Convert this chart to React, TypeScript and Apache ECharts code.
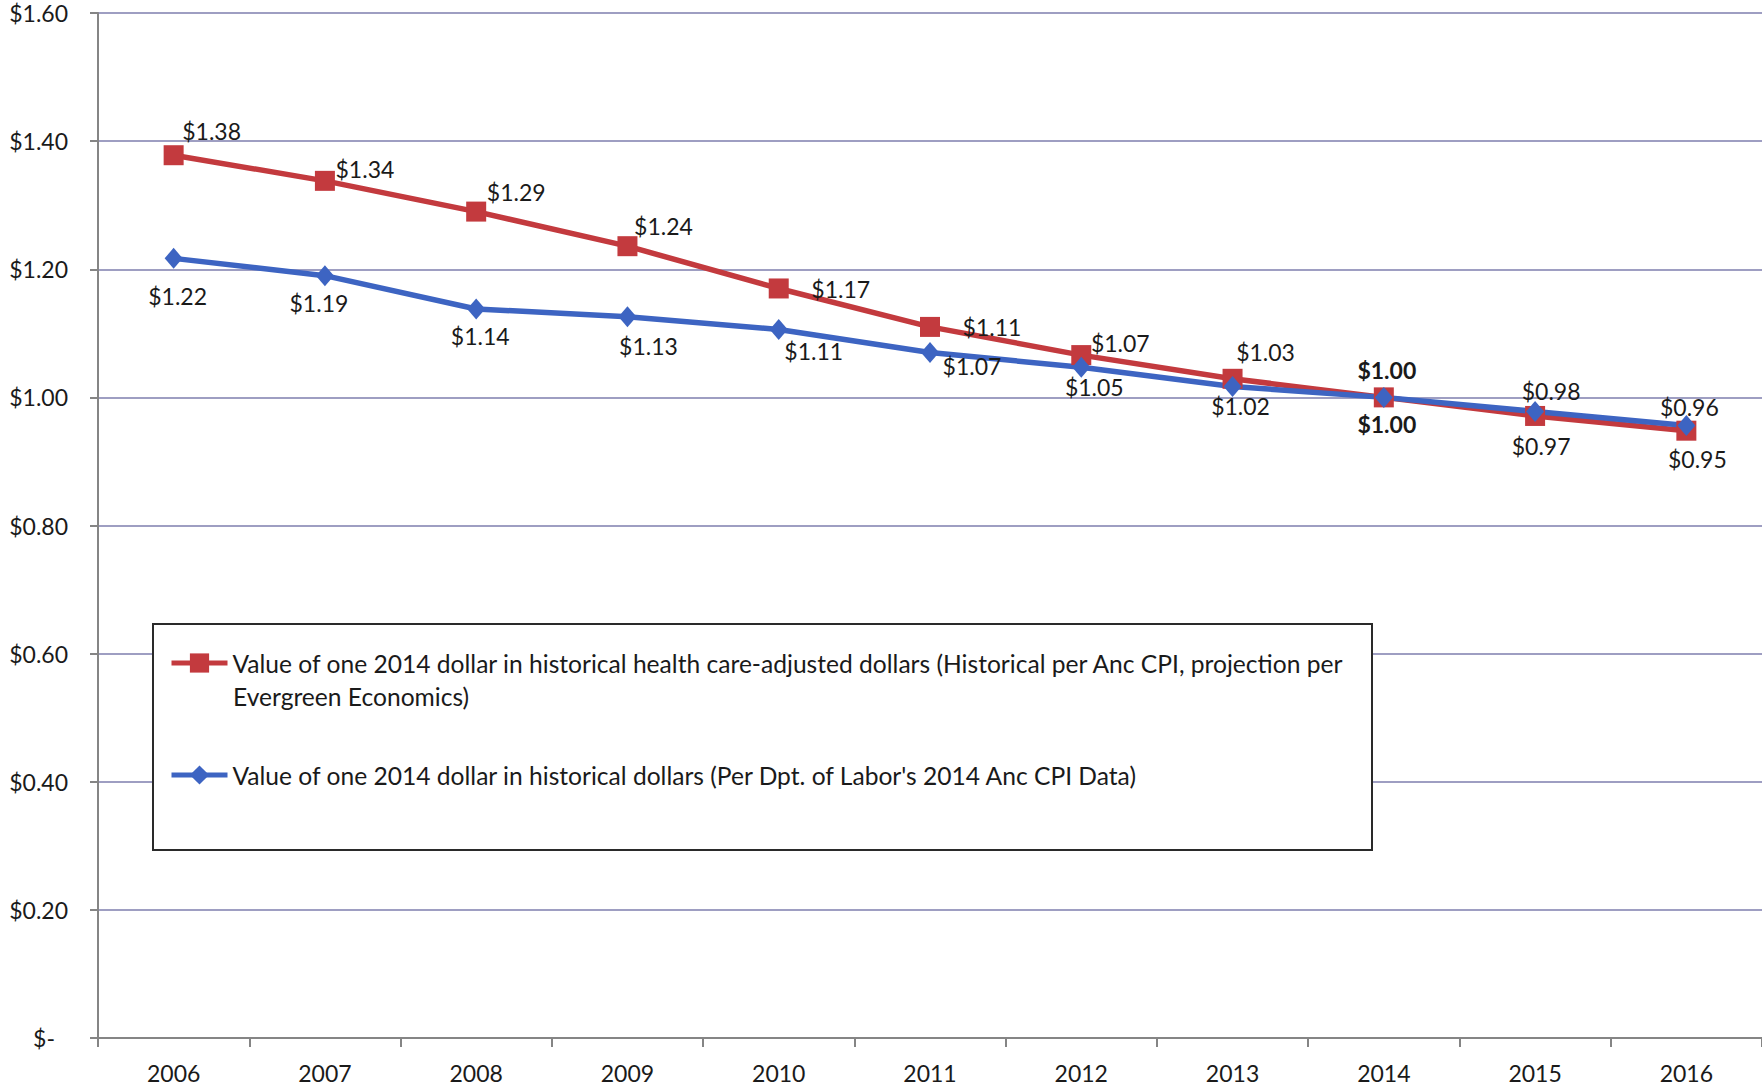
import React, { useEffect, useRef } from "react";
import * as echarts from "echarts";

const years = ["2006", "2007", "2008", "2009", "2010", "2011", "2012", "2013", "2014", "2015", "2016"];
const healthAdjusted = [1.378, 1.338, 1.29, 1.236, 1.17, 1.11, 1.066, 1.029, 1.0, 0.971, 0.948];
const historical = [1.217, 1.19, 1.138, 1.126, 1.106, 1.07, 1.047, 1.017, 1.0, 0.978, 0.956];
const redName =
  "Value of one 2014 dollar in historical health care-adjusted dollars (Historical per Anc CPI, projection per Evergreen Economics)";
const blueName = "Value of one 2014 dollar in historical dollars (Per Dpt. of Labor's 2014 Anc CPI Data)";
const wrapAt = " Evergreen";
const boldYear = "2014";

// label placement (layout only)
const redLabelOffsets = [[38, -24], [40, -12], [40, -20], [36, -20], [62, 1], [62, 0], [39, -12], [33, -27], [3, -27], [6, 30], [11, 28]];
const blueLabelOffsets = [[4, 38], [-6, 27], [4, 27], [21, 29], [35, 22], [42, 13], [13, 20], [8, 20], [3, 27], [16, -20], [3, -19]];

const FONT = "Lato, 'Open Sans', sans-serif";
const RED = "#C33A3E";
const BLUE = "#3D64C2";
const LEGEND_FS = 24.6;

const fmt = (v: number) => "$" + v.toFixed(2);

function buildData(values: number[], offsets: number[][]) {
  return values.map((v, i) => ({
    value: v,
    label: {
      offset: offsets[i],
      fontWeight: years[i] === boldYear ? "bold" : "normal",
    },
  }));
}

export default function App() {
  const ref = useRef<HTMLDivElement>(null);
  useEffect(() => {
    if (!ref.current) return;
    const chart = echarts.init(ref.current, undefined, { renderer: "svg" });
    const labelCommon = {
      show: true,
      position: "inside",
      fontFamily: FONT,
      fontSize: 23,
      color: "#1a1a1a",
      formatter: (p: any) => fmt(p.value),
    };
    const cut = redName.indexOf(wrapAt);
    const redLine1 = redName.slice(0, cut);
    const redLine2 = redName.slice(cut + 1);
    chart.setOption({
      animation: false,
      backgroundColor: "#ffffff",
      textStyle: { fontFamily: FONT },
      grid: { left: 98, top: 13, right: 0, bottom: 52, containLabel: false },
      graphic: [
        {
          type: "rect",
          z: 3,
          shape: { x: 153, y: 624, width: 1219, height: 226 },
          style: { fill: "#ffffff", stroke: "#2a2a2a", lineWidth: 2 },
        },
        {
          type: "text",
          z: 6,
          x: 233,
          y: 696,
          style: {
            text: redLine2,
            fontFamily: FONT,
            fontSize: LEGEND_FS,
            fill: "#1a1a1a",
            verticalAlign: "middle",
            align: "left",
          },
        },
      ],
      legend: {
        orient: "vertical",
        left: 169,
        top: 646.5,
        padding: 0,
        itemGap: 79,
        itemWidth: 56,
        itemHeight: 24,
        selectedMode: false,
        z: 5,
        lineStyle: { width: 5 },
        textStyle: { fontFamily: FONT, fontSize: LEGEND_FS, color: "#1a1a1a", lineHeight: 33 },
        formatter: (name: string) => (name === redName ? redLine1 : name),
        data: [redName, blueName],
      },
      xAxis: {
        type: "category",
        data: years,
        boundaryGap: true,
        axisLine: { show: true, lineStyle: { color: "#858585", width: 2 } },
        axisTick: { show: true, length: 9, alignWithLabel: false, lineStyle: { color: "#858585", width: 2 } },
        axisLabel: { color: "#1a1a1a", fontSize: 23, fontFamily: FONT, margin: 23 },
        splitLine: { show: false },
      },
      yAxis: {
        type: "value",
        min: 0,
        max: 1.6,
        interval: 0.2,
        axisLine: { show: true, lineStyle: { color: "#858585", width: 2 } },
        axisTick: { show: true, length: 8, lineStyle: { color: "#858585", width: 2 } },
        axisLabel: {
          color: "#1a1a1a",
          fontSize: 23,
          fontFamily: FONT,
          margin: 30,
          formatter: (v: number) => (v === 0 ? "{z|$-}" : fmt(v)),
          rich: { z: { fontSize: 23, fontFamily: FONT, color: "#1a1a1a", padding: [0, 13, 0, 0] } },
        },
        splitLine: { show: true, lineStyle: { color: "#7E7EAE", width: 1.5 } },
      },
      series: [
        {
          name: redName,
          type: "line",
          data: buildData(healthAdjusted, redLabelOffsets),
          symbol: "rect",
          symbolSize: 20,
          lineStyle: { color: RED, width: 5.5 },
          itemStyle: { color: RED },
          label: labelCommon,
          z: 2,
        },
        {
          name: blueName,
          type: "line",
          data: buildData(historical, blueLabelOffsets),
          symbol: "diamond",
          symbolSize: [18, 21],
          lineStyle: { color: BLUE, width: 5.5 },
          itemStyle: { color: BLUE },
          label: labelCommon,
          z: 2,
        },
      ],
    });
    return () => chart.dispose();
  }, []);
  return (
    <div
      ref={ref}
      style={{ position: "fixed", left: 0, top: 0, width: 1762, height: 1090, background: "#fff" }}
    />
  );
}
